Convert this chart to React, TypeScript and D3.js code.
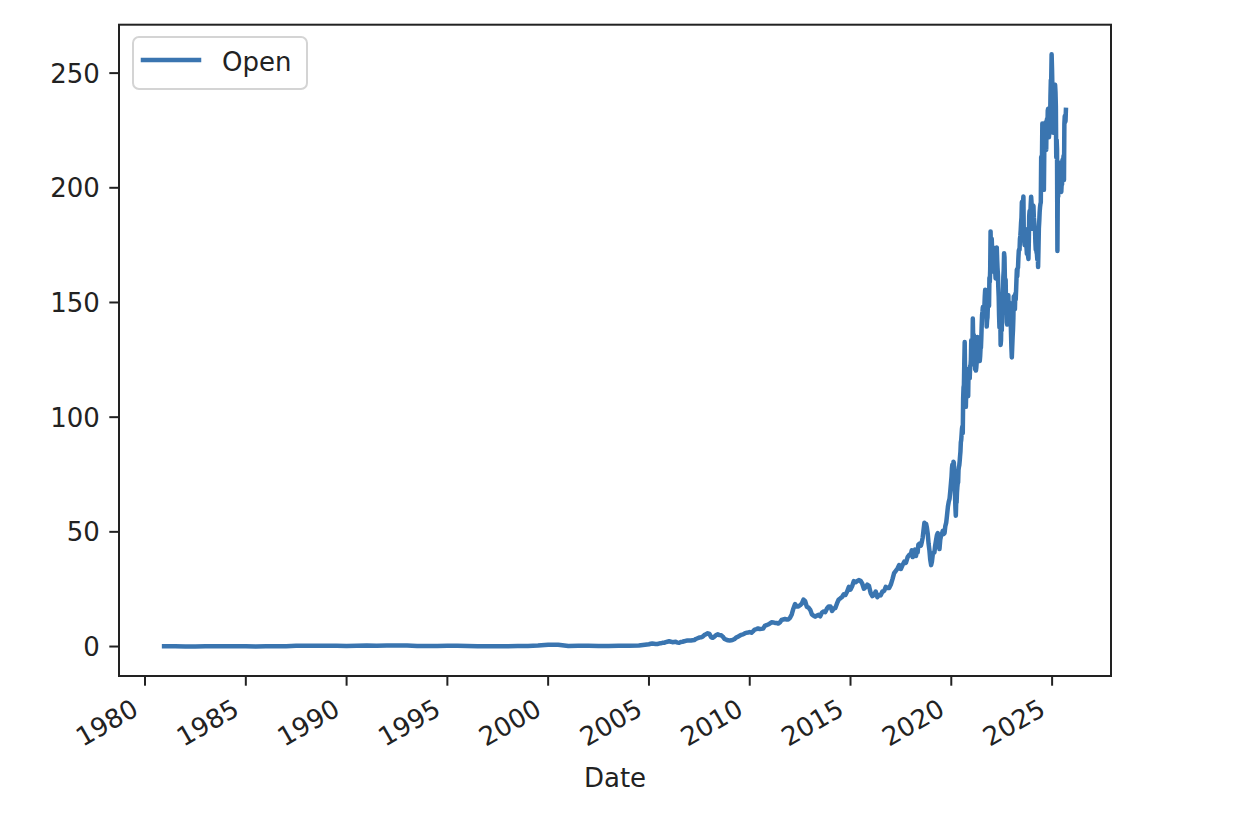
import React from 'react';
import * as d3 from 'd3';

// ---- Data (AAPL "Open") ----
const firstDate = '1980-12-12';
const firstValue = 0.1;

// Jan & Jul of each year, 1981..2004
const semiAnnual1981to2004 = [
  0.10, 0.08, 0.06, 0.06, 0.11, 0.10, 0.08, 0.09, 0.09, 0.06, 0.07, 0.11,
  0.14, 0.30, 0.30, 0.33, 0.31, 0.32, 0.27, 0.32, 0.40, 0.36, 0.46, 0.42,
  0.45, 0.22, 0.24, 0.22, 0.32, 0.36, 0.22, 0.12, 0.13, 0.12, 0.13, 0.25,
  0.28, 0.41, 0.80, 0.82, 0.26, 0.33, 0.34, 0.23, 0.22, 0.30, 0.33, 0.48,
];

// monthly, Jan 2005 .. Dec 2011
const monthly2005to2011 = [
  1.0, 1.2, 1.3, 1.2, 1.1, 1.1, 1.3, 1.4, 1.6, 1.6, 1.9, 2.1,
  2.3, 2.1, 1.9, 2.0, 2.1, 1.7, 1.6, 2.0, 2.1, 2.3, 2.5, 2.6,
  2.6, 2.6, 2.7, 2.8, 3.3, 3.6, 3.9, 4.0, 4.3, 5.0, 5.4, 5.8,
  5.5, 4.1, 3.8, 4.3, 5.0, 5.3, 5.0, 4.9, 4.3, 3.3, 3.0, 2.7,
  2.6, 2.7, 2.9, 3.3, 3.9, 4.3, 4.7, 5.1, 5.3, 5.7, 6.0, 6.1,
  6.3, 6.0, 6.6, 7.4, 7.6, 7.9, 7.6, 7.7, 7.8, 9.0, 9.3, 9.6,
  10.0, 10.6, 10.5, 10.3, 10.3, 10.0, 10.5, 11.6, 11.8, 12.0, 11.8, 11.8,
];

// monthly, Jan 2012 .. Dec 2017
const monthly2012to2017 = [
  12.5, 14.0, 16.5, 18.5, 17.5, 17.5, 18.0, 18.7, 20.5, 19.8, 17.3, 17.0,
  16.0, 14.0, 13.5, 13.0, 13.5, 13.8, 13.2, 14.8, 15.3, 15.0, 16.6, 17.5,
  17.5, 15.5, 16.6, 16.8, 18.8, 20.5, 21.0, 21.6, 22.8, 22.5, 24.0, 26.0,
  24.8, 26.4, 28.5, 28.0, 28.5, 29.0, 28.7, 27.5, 25.2, 25.8, 27.0, 26.5,
  23.3, 22.0, 22.5, 24.0, 21.5, 22.5, 22.3, 24.0, 24.2, 26.0, 25.5, 25.5,
  27.0, 29.5, 32.0, 33.0, 34.0, 35.5, 33.8, 35.5, 37.0, 36.5, 39.0, 40.0,
];

// 1st & 15th of each month, 2018 .. 2019
const semiMonthly2018to2019 = [
  40.5, 42.0, 39.0, 40.3, 41.6, 42.3, 39.5, 41.0, 41.0, 44.5, 44.8, 45.0,
  44.0, 45.5, 47.5, 50.5, 54.0, 52.0, 53.5, 52.0, 49.0, 45.0, 42.0, 38.0,
  35.5, 37.0, 40.5, 41.0, 41.0, 44.0, 46.5, 48.5, 49.5, 45.0, 42.5, 46.5,
  48.5, 49.0, 50.5, 49.0, 49.5, 52.5, 54.0, 57.0, 61.0, 63.0, 64.5, 68.0,
];

// weekly values (Mondays)
const weekly2020 = [
  74.3, 77.6, 79.3, 77.5, 76.1, 80.6, 80.0, 74.3, 70.6, 65.9, 60.5, 57.0, 62.7,
  62.7, 67.1, 69.5, 71.3, 71.6, 77.0, 78.3, 79.0, 80.8, 83.0, 85.0, 89.0, 90.0,
  92.5, 95.0, 96.0, 93.0, 108.2, 113.0, 114.0, 124.5, 132.8, 120.0, 114.6, 104.5, 112.0,
  113.9, 121.0, 116.0, 114.0, 109.1, 120.5, 119.0, 117.2, 116.9, 122.3, 122.4, 125.0, 133.5,
];
const weekly2021 = [
  133.5, 128.5, 127.8, 143.0, 133.8, 136.0, 135.5, 128.0, 127.7, 120.9, 121.4, 120.3, 121.6,
  123.9, 132.5, 135.0, 134.8, 132.0, 126.0, 127.0, 125.0, 124.5, 126.5, 129.9, 130.3, 134.5,
  140.0, 144.5, 146.0, 148.0, 145.7, 146.2, 148.0, 148.5, 152.7, 155.5, 148.4, 146.0, 145.5,
  139.5, 142.3, 143.5, 148.7, 148.9, 150.0, 148.5, 160.8, 159.0, 164.3, 181.0, 171.0, 177.0,
];
const weekly2022 = [
  177.8, 172.3, 166.0, 163.5, 174.0, 172.0, 168.0, 165.0, 164.7, 163.4, 160.5, 163.5, 172.4,
  174.0, 168.8, 165.0, 162.3, 156.7, 152.6, 144.5, 139.1, 149.9, 147.0, 131.5, 133.4, 142.7,
  137.8, 145.7, 147.1, 152.3, 161.0, 164.0, 171.5, 169.7, 161.1, 155.0, 159.9, 149.3, 149.7,
  141.3, 140.4, 141.1, 147.2, 153.2, 142.1, 148.0, 150.0, 145.1, 147.1, 142.7, 136.0, 130.0,
];
const weekly2023 = [
  126.0, 130.5, 134.8, 138.1, 143.0, 152.6, 150.9, 150.2, 147.1, 153.8, 151.2, 155.1, 159.9,
  164.3, 161.4, 165.0, 165.2, 169.3, 172.5, 173.2, 173.0, 177.7, 179.0, 181.5, 184.9, 187.0,
  193.8, 189.3, 194.1, 193.7, 196.2, 180.0, 177.1, 175.0, 180.1, 182.0, 177.7, 176.5, 174.2,
  171.2, 176.8, 176.0, 170.4, 169.0, 176.4, 187.7, 189.9, 189.8, 189.0, 193.1, 196.1, 193.6,
];
const weekly2024 = [
  187.2, 182.1, 182.2, 192.3, 192.0, 187.1, 185.3, 181.8, 182.2, 176.2, 172.9, 175.6, 171.8,
  171.2, 168.7, 175.4, 165.5, 173.4, 182.4, 185.4, 189.3, 191.5, 192.9, 193.6, 213.4, 209.2,
  212.1, 228.0, 225.0, 218.0, 224.4, 199.1, 216.1, 225.7, 226.8, 228.5, 220.8, 216.5, 228.5, 230.0,
  224.5, 233.6, 234.5, 229.3, 222.0, 224.6, 226.4, 228.1, 239.8, 246.9, 247.4, 258.2, 252.2,
];
const weekly2025 = [
  244.3, 234.8, 224.0, 224.0, 230.0, 229.6, 244.2, 244.9, 241.8, 235.5, 213.3, 221.0, 217.0,
  172.4, 198.4, 196.1, 210.0, 203.1, 210.9, 198.3, 199.4, 200.3, 200.6, 198.2, 201.6, 201.5,
  212.1, 209.9, 212.1, 214.0, 203.4, 227.9, 231.3, 228.6, 229.2, 234.0,
];

const yTicks = [0, 50, 100, 150, 200, 250];
const xTickYears = [1980, 1985, 1990, 1995, 2000, 2005, 2010, 2015, 2020, 2025];
const seriesName = 'Open';
const xLabel = 'Date';

type Pt = { date: Date; value: number };

function buildSeries(): Pt[] {
  const pts: Pt[] = [];
  pts.push({ date: new Date(firstDate + 'T00:00:00'), value: firstValue });
  semiAnnual1981to2004.forEach((v, i) =>
    pts.push({ date: d3.timeMonth.offset(new Date(1981, 0, 1), 6 * i), value: v }));
  monthly2005to2011.forEach((v, i) =>
    pts.push({ date: d3.timeMonth.offset(new Date(2005, 0, 1), i), value: v }));
  monthly2012to2017.forEach((v, i) =>
    pts.push({ date: d3.timeMonth.offset(new Date(2012, 0, 1), i), value: v }));
  semiMonthly2018to2019.forEach((v, i) =>
    pts.push({ date: new Date(2018, Math.floor(i / 2), i % 2 ? 15 : 1), value: v }));
  const weekly: [Date, number[]][] = [
    [new Date(2020, 0, 6), weekly2020],
    [new Date(2021, 0, 4), weekly2021],
    [new Date(2022, 0, 3), weekly2022],
    [new Date(2023, 0, 2), weekly2023],
    [new Date(2024, 0, 1), weekly2024],
    [new Date(2025, 0, 6), weekly2025],
  ];
  weekly.forEach(([start, vals]) =>
    vals.forEach((v, i) => pts.push({ date: d3.timeDay.offset(start, 7 * i), value: v })));
  return pts;
}

const W = 1260;
const H = 818;
const left = 119;
const right = 1111;
const top = 24.7;
const bottom = 676;
const font = '"DejaVu Sans", sans-serif';
const fs = 26;
const ink = '#222222';
const lineColor = '#3a75b0';

export default function App() {
  const data = buildSeries();
  const [x0, x1] = d3.extent(data, d => d.date.getTime()) as [number, number];
  const xPad = (x1 - x0) * 0.05;
  const x = d3.scaleTime().domain([new Date(x0 - xPad), new Date(x1 + xPad)]).range([left, right]);
  const [y0, y1] = d3.extent(data, d => d.value) as [number, number];
  const yPad = (y1 - y0) * 0.05;
  const y = d3.scaleLinear().domain([y0 - yPad, y1 + yPad]).range([bottom, top]);

  const line = d3.line<Pt>().x(d => x(d.date)).y(d => y(d.value));
  const tickLen = 9.7;

  return (
    <svg width={W} height={H} style={{ position: 'absolute', left: 0, top: 0, background: '#fff' }}
      fontFamily={font}>
      <rect x={0} y={0} width={W} height={H} fill="#fff" />
      <path d={line(data) || ''} fill="none" stroke={lineColor} strokeWidth={4.5}
        strokeLinejoin="round" strokeLinecap="square" />
      {/* spines */}
      <rect x={left} y={top} width={right - left} height={bottom - top} fill="none"
        stroke={ink} strokeWidth={2} />
      {/* y ticks */}
      {yTicks.map(t => (
        <g key={'y' + t}>
          <line x1={left - tickLen} x2={left} y1={y(t)} y2={y(t)} stroke={ink} strokeWidth={2} />
          <text x={left - tickLen - 9.5} y={y(t) + 9.5} textAnchor="end" fontSize={fs} fill={ink}>{t}</text>
        </g>
      ))}
      {/* x ticks */}
      {xTickYears.map(yr => {
        const xt = x(new Date(yr, 0, 1));
        return (
          <g key={'x' + yr}>
            <line x1={xt} x2={xt} y1={bottom} y2={bottom + tickLen} stroke={ink} strokeWidth={2} />
            <text transform={`translate(${xt - 5},${bottom + 38}) rotate(-30)`} textAnchor="end"
              fontSize={fs} fill={ink}>{yr}</text>
          </g>
        );
      })}
      <text x={(left + right) / 2} y={786.5} textAnchor="middle" fontSize={fs} fill={ink}>{xLabel}</text>
      {/* legend */}
      <rect x={133} y={37} width={174} height={52} rx={6} ry={6} fill="#fff" fillOpacity={0.8}
        stroke="#d4d4d4" strokeWidth={2} />
      <line x1={143} x2={199} y1={60} y2={60} stroke={lineColor} strokeWidth={4.5} strokeLinecap="square" />
      <text x={222} y={70.5} fontSize={fs} fill={ink}>{seriesName}</text>
    </svg>
  );
}
